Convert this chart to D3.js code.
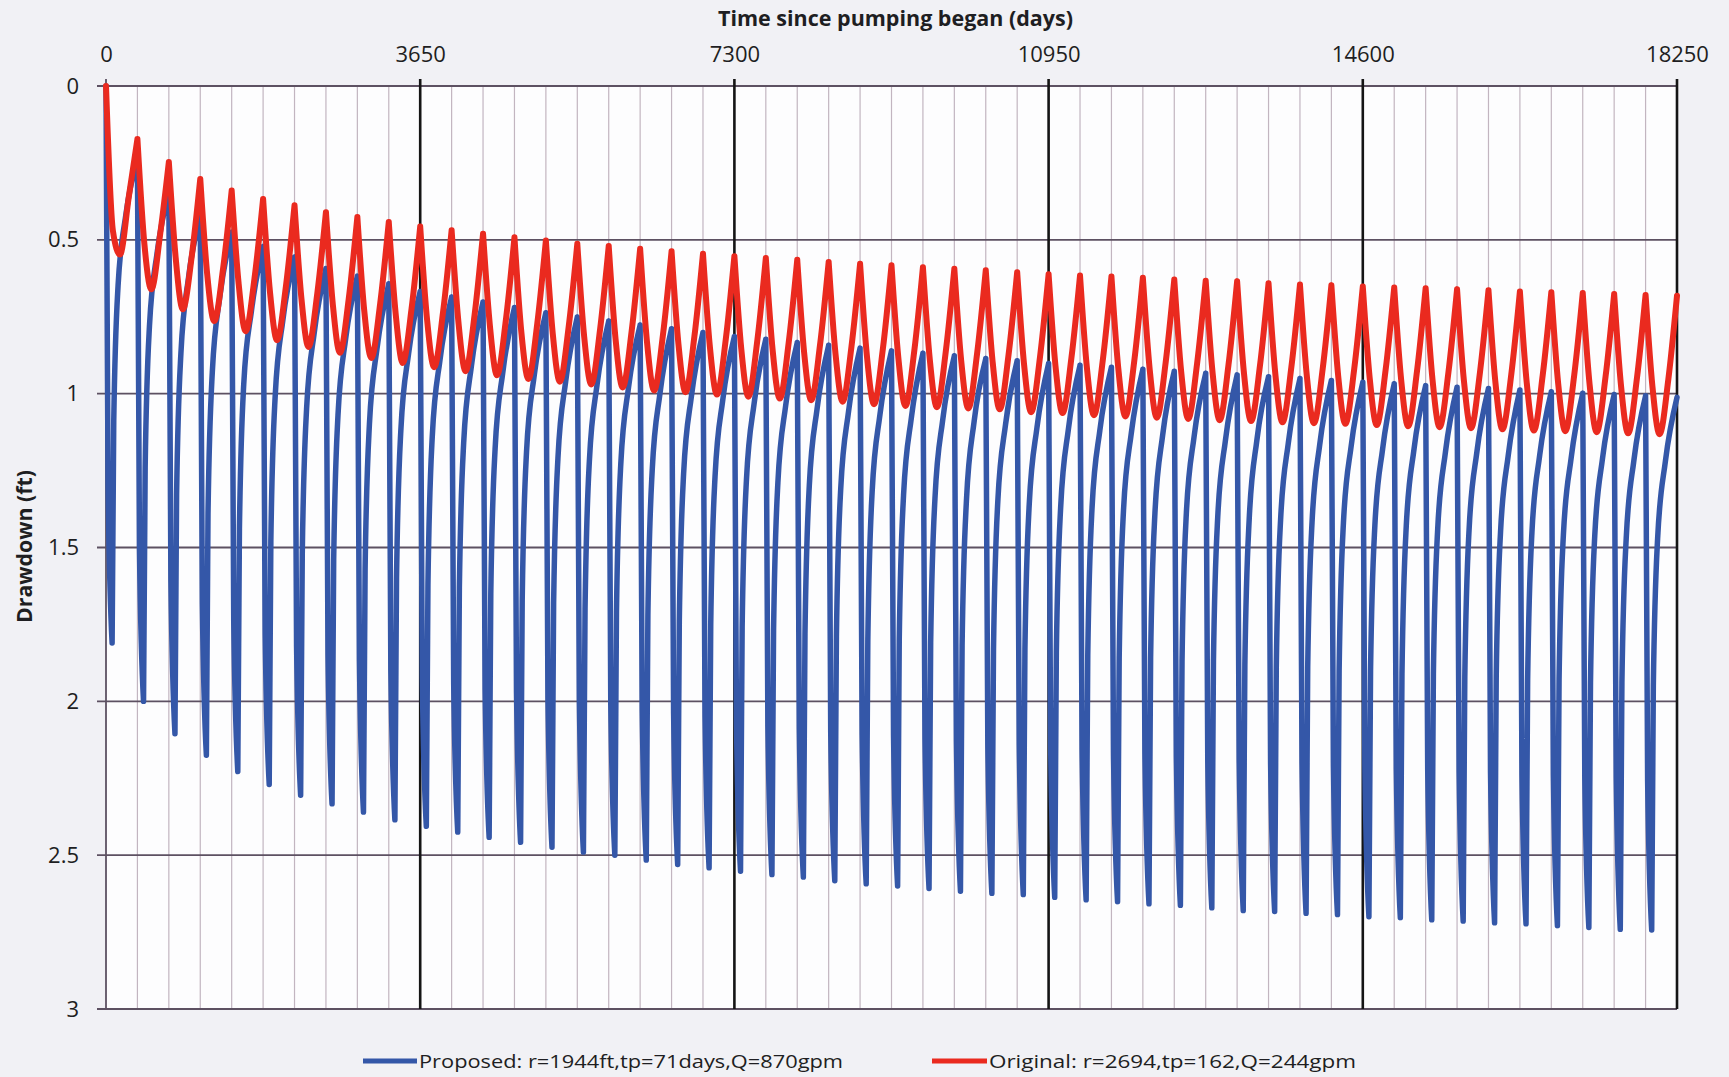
<!DOCTYPE html>
<html><head><meta charset="utf-8">
<script src="https://cdn.jsdelivr.net/npm/d3@7"></script>
<style>
html,body{margin:0;padding:0;background:#f1f1f5;}
svg{display:block;}
text{font-family:"Open Sans","Noto Sans",sans-serif;fill:#1e1e22;}
</style></head>
<body><svg id="chart" width="1729" height="1077"></svg>
<script>
// ---------- data ----------
const xTickValues = [0, 3650, 7300, 10950, 14600, 18250];
const yTickValues = [0, 0.5, 1, 1.5, 2, 2.5, 3];
const cycleDays = 365;      // one pumping cycle per year
const cycleCount = 50;

const seriesNames = ["Proposed: r=1944ft,tp=71days,Q=870gpm", "Original: r=2694,tp=162,Q=244gpm"];

// Proposed: sample days inside each cycle
const proposedDays = [0, 24, 71, 90, 140, 230, 365];
const proposedStart = [0, 0.235, 0.345, 0.42, 0.475, 0.522, 0.556, 0.593, 0.618, 0.643,
 0.668, 0.686, 0.702, 0.72, 0.737, 0.751, 0.764, 0.777, 0.789, 0.801,
 0.814, 0.823, 0.834, 0.843, 0.852, 0.861, 0.869, 0.877, 0.886, 0.893,
 0.902, 0.908, 0.914, 0.921, 0.927, 0.934, 0.939, 0.945, 0.951, 0.957,
 0.963, 0.968, 0.974, 0.979, 0.983, 0.988, 0.994, 0.999, 1.003, 1.007, 1.012];
const proposedDay24 = [1.30, 1.51, 1.61, 1.68, 1.74, 1.78, 1.82, 1.85, 1.87, 1.90,
 1.92, 1.94, 1.96, 1.97, 1.99, 2.00, 2.01, 2.03, 2.04, 2.05,
 2.07, 2.08, 2.09, 2.10, 2.11, 2.11, 2.12, 2.13, 2.14, 2.14,
 2.15, 2.16, 2.17, 2.17, 2.18, 2.19, 2.19, 2.20, 2.20, 2.21,
 2.21, 2.22, 2.22, 2.23, 2.23, 2.24, 2.24, 2.25, 2.25, 2.26];
const proposedPeak = [1.81, 2.0, 2.105, 2.175, 2.228, 2.27, 2.305, 2.333, 2.36, 2.385,
 2.406, 2.425, 2.442, 2.458, 2.474, 2.49, 2.50, 2.516, 2.53, 2.541,
 2.552, 2.563, 2.571, 2.583, 2.593, 2.60, 2.608, 2.617, 2.624, 2.628,
 2.637, 2.645, 2.651, 2.658, 2.663, 2.671, 2.68, 2.683, 2.689, 2.693,
 2.70, 2.703, 2.71, 2.714, 2.72, 2.723, 2.729, 2.735, 2.741, 2.743];
const proposedDay90 = [1.09, 1.24, 1.33, 1.39, 1.44, 1.48, 1.52, 1.54, 1.57, 1.60,
 1.62, 1.63, 1.65, 1.67, 1.68, 1.70, 1.71, 1.72, 1.74, 1.75,
 1.76, 1.77, 1.78, 1.79, 1.80, 1.80, 1.81, 1.82, 1.83, 1.83,
 1.84, 1.85, 1.86, 1.86, 1.87, 1.87, 1.88, 1.89, 1.89, 1.90,
 1.90, 1.91, 1.91, 1.92, 1.92, 1.93, 1.93, 1.94, 1.94, 1.95];
const proposedDay140 = [0.65, 0.78, 0.87, 0.93, 0.97, 1.01, 1.05, 1.07, 1.10, 1.12,
 1.14, 1.16, 1.18, 1.19, 1.21, 1.22, 1.23, 1.25, 1.26, 1.27,
 1.28, 1.29, 1.30, 1.31, 1.32, 1.33, 1.34, 1.35, 1.35, 1.36,
 1.37, 1.37, 1.38, 1.39, 1.39, 1.40, 1.41, 1.41, 1.42, 1.42,
 1.43, 1.43, 1.44, 1.44, 1.45, 1.45, 1.46, 1.46, 1.47, 1.47];
const proposedDay230 = [0.42, 0.54, 0.62, 0.68, 0.73, 0.76, 0.80, 0.82, 0.85, 0.87,
 0.89, 0.91, 0.93, 0.94, 0.96, 0.97, 0.98, 1.00, 1.01, 1.02,
 1.03, 1.04, 1.05, 1.06, 1.07, 1.08, 1.085, 1.09, 1.10, 1.11,
 1.115, 1.12, 1.13, 1.135, 1.14, 1.15, 1.15, 1.16, 1.165, 1.17,
 1.18, 1.18, 1.19, 1.19, 1.20, 1.20, 1.21, 1.21, 1.215, 1.22];

// Original: sample days inside each cycle
const originalDays = [0, 80, 162, 265, 365];
const originalStart = [0, 0.172, 0.247, 0.302, 0.34, 0.367, 0.388, 0.41, 0.426, 0.442,
 0.457, 0.469, 0.48, 0.492, 0.502, 0.513, 0.52, 0.529, 0.537, 0.545,
 0.553, 0.559, 0.565, 0.572, 0.578, 0.583, 0.589, 0.594, 0.599, 0.605,
 0.612, 0.616, 0.619, 0.623, 0.629, 0.633, 0.635, 0.641, 0.645, 0.648,
 0.652, 0.655, 0.657, 0.661, 0.664, 0.668, 0.67, 0.673, 0.676, 0.679, 0.682];
const originalDay80 = [0.47, 0.51, 0.56, 0.61, 0.64, 0.67, 0.69, 0.71, 0.73, 0.74,
 0.76, 0.77, 0.78, 0.80, 0.805, 0.815, 0.824, 0.833, 0.839, 0.847,
 0.855, 0.861, 0.866, 0.872, 0.879, 0.885, 0.889, 0.894, 0.897, 0.905,
 0.91, 0.916, 0.919, 0.923, 0.928, 0.932, 0.935, 0.939, 0.943, 0.945,
 0.949, 0.953, 0.955, 0.959, 0.962, 0.966, 0.968, 0.971, 0.975, 0.978];
const originalPeak = [0.548, 0.661, 0.726, 0.764, 0.797, 0.826, 0.848, 0.867, 0.884, 0.9,
 0.914, 0.927, 0.94, 0.952, 0.961, 0.97, 0.98, 0.99, 0.995, 1.003,
 1.01, 1.016, 1.021, 1.026, 1.034, 1.04, 1.044, 1.048, 1.051, 1.06,
 1.063, 1.07, 1.074, 1.078, 1.082, 1.086, 1.089, 1.093, 1.096, 1.098,
 1.102, 1.106, 1.109, 1.112, 1.116, 1.12, 1.122, 1.125, 1.129, 1.132];
const originalDay265 = [0.36, 0.48, 0.556, 0.594, 0.625, 0.651, 0.673, 0.691, 0.707, 0.723,
 0.736, 0.748, 0.761, 0.772, 0.782, 0.79, 0.80, 0.809, 0.815, 0.823,
 0.83, 0.836, 0.841, 0.847, 0.854, 0.86, 0.864, 0.868, 0.873, 0.881,
 0.884, 0.89, 0.894, 0.898, 0.902, 0.906, 0.91, 0.914, 0.917, 0.92,
 0.923, 0.926, 0.93, 0.933, 0.937, 0.94, 0.942, 0.945, 0.949, 0.952];

// ---------- layout ----------
const plot = {left: 106, right: 1677, top: 86, bottom: 1009};
const colors = {proposed: "#3457a8", original: "#ea2a1f", hgrid: "#5d5162", vminor: "#c2b5c0", vmajor: "#151515"};

const svg = d3.select("#chart");
const x = d3.scaleLinear().domain([0, 18250]).range([plot.left, plot.right]);
const y = d3.scaleLinear().domain([0, 3]).range([plot.top, plot.bottom]);

svg.append("rect").attr("x", plot.left).attr("y", plot.top)
  .attr("width", plot.right - plot.left).attr("height", plot.bottom - plot.top)
  .attr("fill", "#fdfdfe");

// minor vertical grid (each year)
const minorDays = d3.range(cycleDays, 18250, cycleDays).filter(d => d % 3650 !== 0);
svg.append("g").selectAll("line").data(minorDays).join("line")
  .attr("x1", d => x(d)).attr("x2", d => x(d))
  .attr("y1", plot.top).attr("y2", plot.bottom)
  .attr("stroke", colors.vminor).attr("stroke-width", 1.2);

// horizontal grid
svg.append("g").selectAll("line").data(yTickValues).join("line")
  .attr("x1", plot.left - 9).attr("x2", plot.right)
  .attr("y1", d => y(d)).attr("y2", d => y(d))
  .attr("stroke", colors.hgrid).attr("stroke-width", 1.8);

// left axis line
svg.append("line").attr("x1", x(0)).attr("x2", x(0)).attr("y1", plot.top - 7).attr("y2", plot.bottom)
  .attr("stroke", colors.hgrid).attr("stroke-width", 1.8);

// major vertical grid
svg.append("g").selectAll("line").data(xTickValues.filter(d => d > 0)).join("line")
  .attr("x1", d => x(d)).attr("x2", d => x(d))
  .attr("y1", plot.top - 7).attr("y2", plot.bottom)
  .attr("stroke", colors.vmajor).attr("stroke-width", 2.6);

// axes (labels only)
const xAxis = d3.axisTop(x).tickValues(xTickValues).tickSize(0).tickPadding(24).tickFormat(d3.format("d"));
const gx = svg.append("g").attr("transform", `translate(0,${plot.top})`).call(xAxis);
gx.select(".domain").remove();
gx.selectAll("text").style("font-size", "22px").attr("fill", "#1e1e22");

const yAxis = d3.axisLeft(y).tickValues(yTickValues).tickSize(0).tickPadding(27).tickFormat(d => String(d));
const gy = svg.append("g").attr("transform", `translate(${plot.left},0)`).call(yAxis);
gy.select(".domain").remove();
gy.selectAll("text").style("font-size", "22px").attr("fill", "#1e1e22");

// titles
svg.append("text").attr("x", 895.5).attr("y", 26).attr("text-anchor", "middle")
  .style("font-size", "21px").style("font-weight", "bold")
  .attr("textLength", 355).attr("lengthAdjust", "spacingAndGlyphs")
  .text("Time since pumping began (days)");
svg.append("text").attr("transform", "translate(32,546.5) rotate(-90)").attr("text-anchor", "middle")
  .style("font-size", "21px").style("font-weight", "bold")
  .attr("textLength", 153).attr("lengthAdjust", "spacingAndGlyphs")
  .text("Drawdown (ft)");

// ---------- series ----------
const line = d3.line().x(d => x(d[0])).y(d => y(d[1])).curve(d3.curveMonotoneX);

const proposedSegs = [];
const originalSegs = [];
for (let k = 0; k < cycleCount; k++) {
  const t0 = k * cycleDays;
  const pv = [proposedStart[k], proposedDay24[k], proposedPeak[k], proposedDay90[k], proposedDay140[k], proposedDay230[k], proposedStart[k + 1]];
  const pts = proposedDays.map((d, i) => [t0 + d, pv[i]]);
  proposedSegs.push(pts.slice(0, 3));      // pumping
  proposedSegs.push(pts.slice(2));         // recovery
  const ov = [originalStart[k], originalDay80[k], originalPeak[k], originalDay265[k], originalStart[k + 1]];
  originalSegs.push(originalDays.map((d, i) => [t0 + d, ov[i]]));
}

svg.append("path").attr("d", proposedSegs.map(s => line(s)).join(""))
  .attr("fill", "none").attr("stroke", colors.proposed).attr("stroke-width", 5.5)
  .attr("stroke-linejoin", "round").attr("stroke-linecap", "round");
svg.append("path").attr("d", originalSegs.map(s => line(s)).join(""))
  .attr("fill", "none").attr("stroke", colors.original).attr("stroke-width", 6)
  .attr("stroke-linejoin", "round").attr("stroke-linecap", "round");

// ---------- legend ----------
const legendY = 1061;
const legend = [
  {name: seriesNames[0], color: colors.proposed, x0: 363, x1: 417, tx: 419, len: 424},
  {name: seriesNames[1], color: colors.original, x0: 932, x1: 987, tx: 989, len: 367}
];
const lg = svg.append("g");
legend.forEach(l => {
  lg.append("line").attr("x1", l.x0).attr("x2", l.x1).attr("y1", legendY).attr("y2", legendY)
    .attr("stroke", l.color).attr("stroke-width", 5);
  lg.append("text").attr("x", l.tx).attr("y", legendY + 7).style("font-size", "19px")
    .attr("textLength", l.len).attr("lengthAdjust", "spacingAndGlyphs").text(l.name);
});
</script>
</body></html>
